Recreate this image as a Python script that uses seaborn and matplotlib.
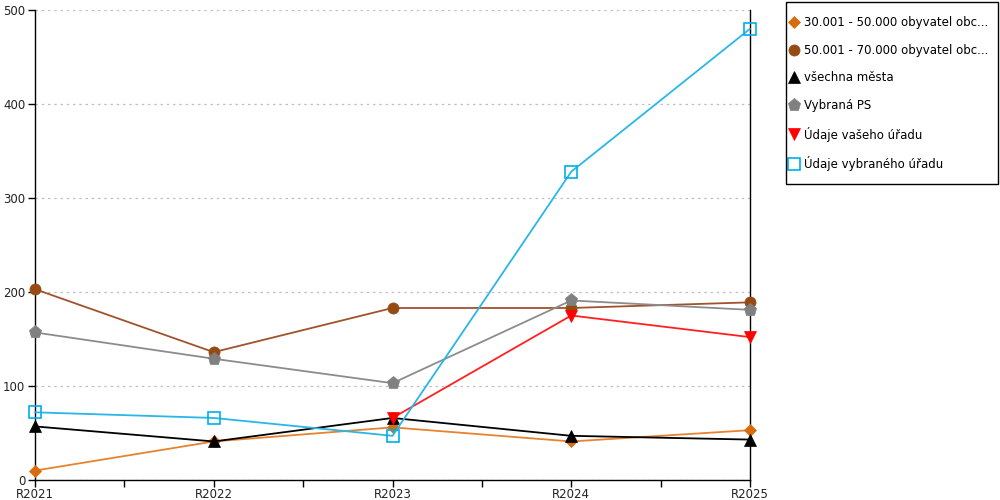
import numpy as np
import pandas as pd
import matplotlib
matplotlib.use("Agg")
import matplotlib.pyplot as plt
import seaborn as sns
from matplotlib.ticker import MultipleLocator
from matplotlib.patches import Rectangle

years = ["R2021", "R2022", "R2023", "R2024", "R2025"]
series_names = [
    "30.001 - 50.000 obyvatel obc...",
    "50.001 - 70.000 obyvatel obc...",
    "všechna města",
    "Vybraná PS",
    "Údaje vašeho úřadu",
    "Údaje vybraného úřadu",
]
s_30_50 = [10, 41, 56, 41, 53]
s_50_70 = [203, 136, 183, 183, 189]
s_all = [57, 41, 66, 47, 43]
s_ps = [157, 129, 103, 191, 181]
s_yours = [np.nan, np.nan, 66, 175, 152]
s_selected = [72, 66, 47, 328, 480]
values = [s_30_50, s_50_70, s_all, s_ps, s_yours, s_selected]

line_colors = ["#E8822E", "#A0522D", "#000000", "#8C8C8C", "#FF2020", "#29B6E8"]
marker_colors = ["#D96B0C", "#964B12", "#000000", "#808080", "#FF0000", "#00AEEF"]
markers = ["D", "o", "^", "p", "v", "s"]
msizes = [6, 8, 8, 9.5, 8, 8]

rows = []
for name, vals in zip(series_names, values):
    for i, v in enumerate(vals):
        rows.append({"series": name, "x": i, "value": v})
df = pd.DataFrame(rows)

sns.set_style("white")
plt.rcParams["font.family"] = ["DejaVu Sans"]

fig = plt.figure(figsize=(10, 5), dpi=100)
ax = fig.add_axes([0.035, 0.04, 0.715, 0.94])

for name, lc, mc, mk, ms in zip(series_names, line_colors, marker_colors, markers, msizes):
    sub = df[df["series"] == name].dropna()
    open_marker = mk == "s"
    sns.lineplot(data=sub, x="x", y="value", ax=ax, color=lc, linewidth=1.3,
                 marker=mk, markersize=ms,
                 markerfacecolor="none" if open_marker else mc,
                 markeredgecolor=mc, markeredgewidth=1.2 if open_marker else 0.5,
                 clip_on=False, zorder=3, label=name)

ax.set_xlim(0, 4)
ax.set_ylim(0, 500)
ax.set_xticks(range(len(years)))
ax.set_xticklabels(years)
ax.xaxis.set_minor_locator(MultipleLocator(0.5))
ax.yaxis.set_major_locator(MultipleLocator(100))
ax.set_xlabel("")
ax.set_ylabel("")

for side in ["left", "bottom", "right"]:
    ax.spines[side].set_visible(True)
    ax.spines[side].set_color("black")
    ax.spines[side].set_linewidth(1.0)
ax.spines["top"].set_visible(False)

ax.tick_params(axis="x", which="both", direction="out", length=5, width=1,
               color="black", labelsize=8.5, pad=1, bottom=True, labelcolor="#222222")
ax.tick_params(axis="y", which="major", direction="out", length=5, width=1,
               color="black", labelsize=8.5, pad=2, left=True, labelcolor="#222222")

ax.yaxis.grid(True, color="#C0C0C0", linestyle=(0, (2, 3)), linewidth=0.9)
ax.xaxis.grid(False)
ax.set_axisbelow(True)

# legend frame drawn as a separate box (pixels 786..998 x 2..184)
fig.patches.append(Rectangle((0.786, 0.632), 0.212, 0.364, transform=fig.transFigure,
                             fill=False, edgecolor="black", linewidth=1.0))
leg = ax.legend(loc="upper left", bbox_to_anchor=(0.790, 0.968),
                bbox_transform=fig.transFigure, frameon=False,
                fontsize=8.5, labelspacing=1.24, handlelength=0.6, handletextpad=0.6,
                borderpad=0, borderaxespad=0, labelcolor="black")
for line in leg.get_lines():
    line.set_linestyle("none")

fig.savefig("out.png", dpi=100)
